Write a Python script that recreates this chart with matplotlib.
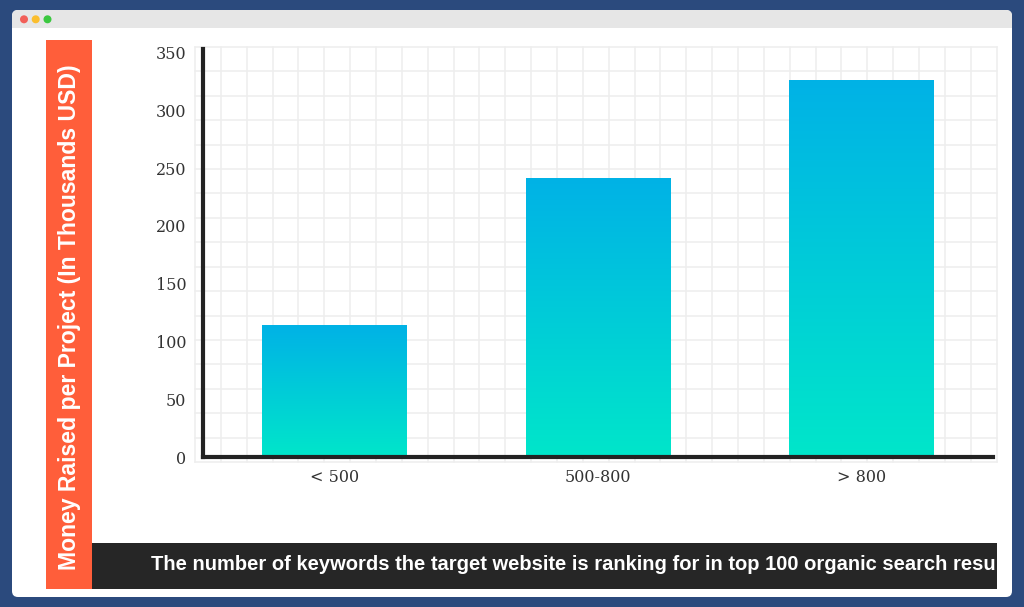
import numpy as np
import matplotlib
matplotlib.use('Agg')
import matplotlib.pyplot as plt
from matplotlib.patches import Rectangle, FancyBboxPatch, Circle
from matplotlib.colors import LinearSegmentedColormap
from matplotlib.transforms import Bbox, TransformedBbox

# chart data
categories = ['< 500', '500-800', '> 800']
money_raised = [114, 241, 326]
y_ticks = [0, 50, 100, 150, 200, 250, 300, 350]
y_label = 'Money Raised per Project (In Thousands USD)'
x_label = 'The number of keywords the target website is ranking for in top 100 organic search results'

W, H = 1024, 607
fig = plt.figure(figsize=(W / 100, H / 100), dpi=100)
fig.patch.set_facecolor('#2b4a7d')

# background frame, drawn in pixel coordinates
bg = fig.add_axes([0, 0, 1, 1], zorder=0)
bg.set_xlim(0, W)
bg.set_ylim(H, 0)
bg.axis('off')

# browser window
bg.add_patch(FancyBboxPatch((12, 10), 1000, 587, boxstyle='round,pad=0,rounding_size=6',
                            fc='white', ec='none'))
bg.add_patch(FancyBboxPatch((12, 10), 1000, 18, boxstyle='round,pad=0,rounding_size=6',
                            fc='#e6e6e6', ec='none'))
bg.add_patch(Rectangle((12, 20), 1000, 8, fc='#e6e6e6', ec='none'))
for cx, c in zip([24, 35.7, 47.5], ['#f25f58', '#fbbe2e', '#3bc840']):
    bg.add_patch(Circle((cx, 19.3), 4, fc=c, ec='none'))

# light grid paper behind the plot
for gx in np.linspace(195, 996.5, 32):
    bg.plot([gx, gx], [47, 462], color='#eeeeee', lw=1.1, zorder=1)
for gy in np.linspace(47, 462, 18):
    bg.plot([195, 996.5], [gy, gy], color='#eeeeee', lw=1.1, zorder=1)

# y label band
bg.add_patch(Rectangle((46, 40), 46, 549, fc='#ff5e3a', ec='none', zorder=2))
bg.text(69.5, 317, y_label, rotation=90, ha='center', va='center', color='white',
        fontsize=16.6, fontweight='bold', family='Liberation Sans', zorder=3)

# x label band (text runs past the edge and is cut off)
bg.add_patch(Rectangle((92, 543), 905, 46, fc='#262626', ec='none', zorder=2))
t = bg.text(151, 564, x_label, ha='left', va='center', color='white',
            fontsize=14.5, fontweight='bold', family='Liberation Sans', zorder=3)
t.set_clip_box(TransformedBbox(Bbox.from_extents(92, 543, 997, 589), bg.transData))
t.set_clip_on(True)

# main chart
ax = fig.add_axes([203 / W, 1 - 457 / H, (993 - 203) / W, (457 - 49) / H], zorder=2)
ax.patch.set_alpha(0)

x = np.arange(len(categories))
bars = ax.bar(x, money_raised, width=0.55, color='none', edgecolor='none')

cmap = LinearSegmentedColormap.from_list('bar_grad', ['#00e6ca', '#00b2e6'])
grad = np.linspace(0, 1, 256).reshape(-1, 1)
for b in bars:
    x0, w, h = b.get_x(), b.get_width(), b.get_height()
    im = ax.imshow(grad, extent=[x0, x0 + w, 0, h], origin='lower', aspect='auto',
                   cmap=cmap, zorder=2)
    im.set_clip_path(b)

ax.set_xlim(-0.5, 2.5)
ax.set_ylim(0, 353)
ax.set_xticks(x)
ax.set_xticklabels(categories)
ax.set_yticks(y_ticks)
ax.tick_params(length=0, labelsize=11.5, labelcolor='#333333')
ax.tick_params(axis='y', pad=12)
ax.tick_params(axis='x', pad=9)
for lab in ax.get_xticklabels() + ax.get_yticklabels():
    lab.set_family('DejaVu Serif')

for s in ['top', 'right']:
    ax.spines[s].set_visible(False)
for s in ['left', 'bottom']:
    ax.spines[s].set_linewidth(3)
    ax.spines[s].set_color('#222222')
    ax.spines[s].set_capstyle('projecting')

plt.savefig('out.png', dpi=100, facecolor=fig.get_facecolor())
